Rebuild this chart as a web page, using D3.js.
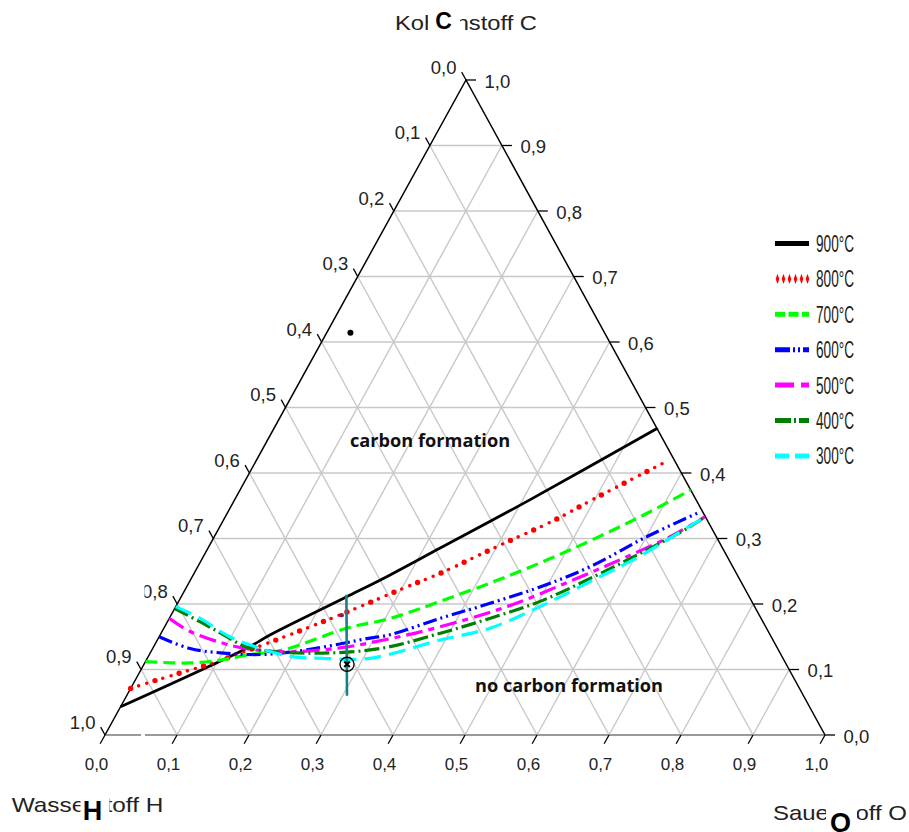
<!DOCTYPE html>
<html>
<head>
<meta charset="utf-8">
<script src="https://cdn.jsdelivr.net/npm/d3@7"></script>
<style>
  body { margin: 0; background: #fff; }
  svg { display: block; font-family: "Liberation Sans", Arial, sans-serif; }
</style>
</head>
<body>
<div id="chart"></div>
<script>
// ternary points are [O fraction, C fraction]; H = 1 - O - C
const tickValues = d3.range(0, 11).map(i => i / 10);
const seriesLabels = ['900°C', '800°C', '700°C', '600°C', '500°C', '400°C', '300°C'];

const c900 = [[0, 0.043], [0.130, 0.132], [0.153, 0.153], [0.230, 0.211], [0.273, 0.244],
  [0.322, 0.285], [0.410, 0.359], [0.532, 0.468]];
const c800 = [[0, 0.071], [0.030, 0.084], [0.099, 0.112], [0.189, 0.158], [0.256, 0.196],
  [0.302, 0.224], [0.342, 0.247], [0.405, 0.291], [0.460, 0.328], [0.493, 0.356], [0.572, 0.419]];
const c700 = [[0, 0.112], [0.063, 0.110], [0.107, 0.115], [0.136, 0.122], [0.183, 0.130],
  [0.254, 0.163], [0.307, 0.178], [0.363, 0.204], [0.437, 0.242], [0.508, 0.285],
  [0.576, 0.333], [0.626, 0.374]];
const c600 = [[0, 0.150], [0.052, 0.132], [0.102, 0.125], [0.158, 0.123], [0.215, 0.130],
  [0.294, 0.148], [0.319, 0.153], [0.376, 0.178], [0.434, 0.201], [0.491, 0.226],
  [0.545, 0.257], [0.601, 0.303], [0.655, 0.340]];
const c500 = [[0, 0.178], [0.039, 0.158], [0.094, 0.140], [0.136, 0.131], [0.193, 0.127],
  [0.260, 0.133], [0.322, 0.147], [0.382, 0.165], [0.460, 0.196], [0.532, 0.237],
  [0.585, 0.270], [0.636, 0.305], [0.666, 0.333]];
const c400 = [[0, 0.193], [0.045, 0.173], [0.088, 0.153], [0.130, 0.134], [0.175, 0.127],
  [0.241, 0.125], [0.316, 0.132], [0.387, 0.155], [0.445, 0.178], [0.502, 0.204],
  [0.554, 0.239], [0.604, 0.277], [0.653, 0.318], [0.666, 0.333]];
const c300 = [[0, 0.196], [0.043, 0.178], [0.098, 0.150], [0.144, 0.134], [0.197, 0.120],
  [0.244, 0.117], [0.309, 0.117], [0.393, 0.145], [0.453, 0.163], [0.506, 0.196],
  [0.556, 0.234], [0.606, 0.273], [0.666, 0.333]];
const curves = [c900, c800, c700, c600, c500, c400, c300];

const errorBar = [[0.228, 0.214], [0.306, 0.060]];
const measured = [0.282, 0.108];
const markDot = [0.033, 0.614];
const redMark = [0.237, 0.183];

const colors = ['#000000', '#ff0000', '#00ff00', '#0000ff', '#ff00ff', '#008000', '#00ffff'];
const dashes = [null, null, '12 6', '14 4 2 4 2 4', '17 6 6 6', '15 4 2 4', '17 8'];
const legendDashes = [null, null, '10 3.5', '15 3 2 3 2 3', '19 7 8 7', '16 3 2 3', '14 6'];

const W = 909, H = 832;
const apex = [466, 80], baseY = 735, baseX0 = 105, baseX1 = 825;

const svg = d3.select('#chart').append('svg')
  .attr('width', W).attr('height', H);

const oScale = d3.scaleLinear().domain([0, 1]).range([baseX0, baseX1]);
const cScale = d3.scaleLinear().domain([0, 1]).range([baseY, apex[1]]);
const shift = apex[0] - baseX0;
const pt = (o, c) => [oScale(o) + c * shift, cScale(c)];

const fmt = v => d3.format('.1f')(v).replace('.', ',');

// grid
const grid = svg.append('g').attr('stroke', '#c8c8c8').attr('stroke-width', 1.4);
tickValues.slice(1, 10).forEach(v => {
  [[pt(0, v), pt(1 - v, v)], [pt(v, 0), pt(v, 1 - v)], [pt(1 - v, 0), pt(0, 1 - v)]]
    .forEach(([a, b]) => grid.append('line')
      .attr('x1', a[0]).attr('y1', a[1]).attr('x2', b[0]).attr('y2', b[1]));
});

// frame
svg.append('line').attr('x1', baseX0).attr('y1', baseY).attr('x2', baseX1).attr('y2', baseY)
  .attr('stroke', '#9a9a9a').attr('stroke-width', 2);
svg.append('path')
  .attr('d', d3.line()([pt(0, 0), pt(0, 1), pt(1, 0)]))
  .attr('fill', 'none').attr('stroke', '#000').attr('stroke-width', 1.5);

// ticks and labels
const ticks = svg.append('g').attr('stroke', '#000').attr('stroke-width', 1.3);
const labels = svg.append('g').attr('fill', '#222');
const uL = [(apex[0] - baseX1), (apex[1] - baseY)];
const nL = Math.hypot(uL[0], uL[1]);
const uB = [(baseX0 - apex[0]), (baseY - apex[1])];
const nB = Math.hypot(uB[0], uB[1]);

tickValues.forEach(v => {
  // left: hydrogen
  const a = pt(0, 1 - v);
  ticks.append('line').attr('x1', a[0]).attr('y1', a[1])
    .attr('x2', a[0] + 9 * uL[0] / nL).attr('y2', a[1] + 9 * uL[1] / nL);
  labels.append('text').attr('x', a[0] - 9.5).attr('y', a[1] - 6.5)
    .attr('text-anchor', 'end').attr('font-size', 18.5).text(fmt(v));
  // right: carbon
  const b = pt(1 - v, v);
  ticks.append('line').attr('x1', b[0]).attr('y1', b[1]).attr('x2', b[0] + 10).attr('y2', b[1]);
  labels.append('text').attr('x', b[0] + 18.5).attr('y', b[1] + 7.5)
    .attr('font-size', 18.5).text(fmt(v));
  // bottom: oxygen
  const c = pt(v, 0);
  ticks.append('line').attr('x1', c[0]).attr('y1', c[1])
    .attr('x2', c[0] + 10 * uB[0] / nB).attr('y2', c[1] + 10 * uB[1] / nB);
  labels.append('text').attr('x', c[0] - 8.5).attr('y', 770)
    .attr('text-anchor', 'middle').attr('font-size', 17).text(fmt(v));
});

// small gaps in the original picture
svg.append('rect').attr('x', 140).attr('y', 578).attr('width', 4.5).attr('height', 22).attr('fill', '#fff');
svg.append('rect').attr('x', 141).attr('y', 731).attr('width', 4).attr('height', 8).attr('fill', '#fff');

// curves
const line = d3.line()
  .x(d => pt(d[0], d[1])[0])
  .y(d => pt(d[0], d[1])[1])
  .curve(d3.curveCatmullRom.alpha(0.5));

const curveG = svg.append('g').attr('fill', 'none').attr('stroke-linecap', 'butt');
curves.forEach((data, i) => {
  if (i === 1) {
    curveG.append('path').attr('d', line(data)).attr('stroke', colors[i])
      .attr('stroke-width', 3.6).attr('stroke-linecap', 'round').attr('stroke-dasharray', '0 8.5');
    curveG.append('path').attr('d', line(data)).attr('stroke', colors[i])
      .attr('stroke-width', 5.4).attr('stroke-linecap', 'round').attr('stroke-dasharray', '0 25.5');
    return;
  }
  curveG.append('path').attr('d', line(data)).attr('stroke', colors[i])
    .attr('stroke-width', i === 0 ? 2.8 : 3.2)
    .attr('stroke-dasharray', dashes[i]);
});

// error bar and measured point
const eb = errorBar.map(d => pt(d[0], d[1]));
svg.append('line').attr('x1', eb[0][0]).attr('y1', eb[0][1]).attr('x2', eb[1][0]).attr('y2', eb[1][1])
  .attr('stroke', '#1b7f86').attr('stroke-width', 2.6);
const m = pt(measured[0], measured[1]);
svg.append('circle').attr('cx', m[0]).attr('cy', m[1]).attr('r', 7)
  .attr('fill', 'none').attr('stroke', '#000').attr('stroke-width', 1.3);
svg.append('path').attr('transform', `translate(${m[0]},${m[1]})`)
  .attr('d', d3.symbol(d3.symbolX, 22)()).attr('stroke', '#000').attr('stroke-width', 2.2);
const rd = pt(redMark[0], redMark[1]);
svg.append('circle').attr('cx', rd[0]).attr('cy', rd[1]).attr('r', 2.2).attr('fill', '#7a1f5a');
const bd = pt(markDot[0], markDot[1]);
svg.append('circle').attr('cx', bd[0]).attr('cy', bd[1]).attr('r', 3).attr('fill', '#000');

// region labels
svg.append('text').attr('x', 350).attr('y', 447).attr('font-family', '"Open Sans", sans-serif')
  .attr('font-weight', 700).attr('font-size', 18.2).attr('fill', '#111').text('carbon formation');
svg.append('text').attr('x', 475).attr('y', 692).attr('font-family', '"Open Sans", sans-serif')
  .attr('font-weight', 700).attr('font-size', 18.2).attr('fill', '#111').text('no carbon formation');

// legend
const legend = svg.append('g');
seriesLabels.forEach((lab, i) => {
  const y = 243.5 + i * 35.4;
  if (i === 1) {
    d3.range(6).forEach(k => legend.append('path')
      .attr('transform', `translate(${777.5 + k * 6},${y}) scale(0.8,1.3)`)
      .attr('d', d3.symbol(d3.symbolDiamond, 18)()).attr('fill', colors[i]));
  } else {
    legend.append('line').attr('x1', 775).attr('x2', 809).attr('y1', y).attr('y2', y)
      .attr('stroke', colors[i]).attr('stroke-width', 5)
      .attr('stroke-dasharray', legendDashes[i]);
  }
  legend.append('text').attr('x', 816).attr('y', y + 8.5)
    .attr('font-size', 23).attr('textLength', 38).attr('lengthAdjust', 'spacingAndGlyphs')
    .attr('fill', '#222').text(lab);
});

// corner titles with overlaid element symbols
const titles = [
  {text: 'Kohlenstoff C', x: 395, y: 30, len: 142, box: [428, 4, 32, 32], sym: 'C', sx: 443.5, sy: 28.5, ss: 23},
  {text: 'Wasserstoff H', x: 11.7, y: 811.7, len: 151.6, box: [80.5, 790, 29, 42], sym: 'H', sx: 92.5, sy: 820, ss: 27},
  {text: 'Sauerstoff O', x: 773, y: 820, len: 134, box: [826, 800, 31, 32], sym: 'O', sx: 840.5, sy: 832, ss: 27}
];
titles.forEach(t => {
  svg.append('text').attr('x', t.x).attr('y', t.y).attr('font-size', 21)
    .attr('textLength', t.len).attr('lengthAdjust', 'spacingAndGlyphs')
    .attr('fill', '#222').text(t.text);
  svg.append('rect').attr('x', t.box[0]).attr('y', t.box[1]).attr('width', t.box[2]).attr('height', t.box[3])
    .attr('fill', '#fff');
  svg.append('text').attr('x', t.sx).attr('y', t.sy).attr('text-anchor', 'middle')
    .attr('font-size', t.ss).attr('font-weight', 700).attr('fill', '#000').text(t.sym);
});
</script>
</body>
</html>
